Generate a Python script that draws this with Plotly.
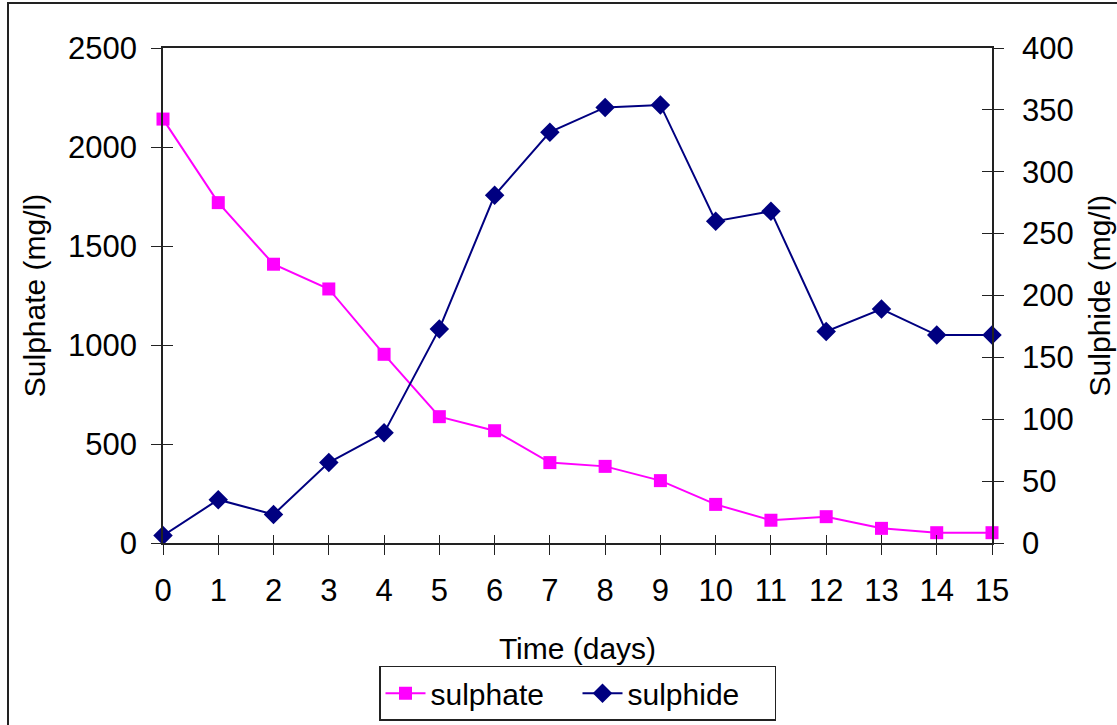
import plotly.graph_objects as go

# Time axis (days)
days = list(range(16))
# Sulphate concentration (mg/l), left axis
sulphate = [2141, 1719, 1408, 1283, 953, 638, 567, 406, 387, 315, 195, 115, 133, 74, 52, 52]
# Sulphide concentration (mg/l), right axis
sulphide = [6, 35, 23, 65, 89, 173, 281, 332, 352, 354, 260, 268, 171, 189, 168, 168]

FONT = "Arial, Liberation Sans, sans-serif"
SIZE = 30
TICK_SIZE = 31

fig = go.Figure()
fig.add_trace(go.Scatter(
    x=days, y=sulphate, name="sulphate", mode="lines+markers",
    line=dict(color="#FF00FF", width=2),
    marker=dict(symbol="square", size=13, color="#FF00FF"),
    yaxis="y", cliponaxis=False,
))
fig.add_trace(go.Scatter(
    x=days, y=sulphide, name="sulphide", mode="lines+markers",
    line=dict(color="#000080", width=2),
    marker=dict(symbol="diamond", size=15, color="#000080"),
    yaxis="y2", cliponaxis=False,
))

axis_common = dict(showgrid=False, zeroline=False, linecolor="#222222", linewidth=1.5,
                   ticks="outside", ticklen=10, tickwidth=1, tickcolor="#222222",
                   automargin=False,
                   tickfont=dict(family=FONT, size=TICK_SIZE, color="black"))

fig.update_layout(
    width=1117, height=725,
    margin=dict(l=163, r=125, t=48, b=182, pad=0, autoexpand=False),
    paper_bgcolor="white", plot_bgcolor="white",
    font=dict(family=FONT, size=SIZE, color="black"),
    xaxis=dict(range=[0, 15], tickvals=days, showline=True, mirror=True,
               title=dict(text="Time (days)", standoff=31, font=dict(size=SIZE)),
               ticklabelstandoff=9, **axis_common),
    yaxis=dict(range=[0, 2500], tickvals=[0, 500, 1000, 1500, 2000, 2500], showline=True,
               title=dict(text="Sulphate (mg/l)", standoff=14, font=dict(size=SIZE)),
               ticklabelstandoff=8, **axis_common),
    yaxis2=dict(range=[0, 400], tickvals=[0, 50, 100, 150, 200, 250, 300, 350, 400],
                overlaying="y", side="right", showline=True, anchor="x",
                title=dict(text="Sulphide (mg/l)", standoff=16, font=dict(size=SIZE)),
                ticklabelstandoff=12, **axis_common),
    # companion axes that draw the inner half of each tick mark
    xaxis2=dict(range=[0, 15], tickvals=days, overlaying="x", anchor="y", showline=False,
                showgrid=False, zeroline=False, ticks="inside", ticklen=8, tickcolor="#222222",
                showticklabels=False, side="bottom", automargin=False),
    yaxis3=dict(range=[0, 2500], tickvals=[0, 500, 1000, 1500, 2000, 2500], overlaying="y",
                anchor="x", side="left", showline=False, showgrid=False, zeroline=False,
                ticks="inside", ticklen=10, tickcolor="#222222", showticklabels=False,
                automargin=False),
    yaxis4=dict(range=[0, 400], tickvals=[0, 50, 100, 150, 200, 250, 300, 350, 400],
                overlaying="y", anchor="x", side="right", showline=False, showgrid=False,
                zeroline=False, ticks="inside", ticklen=10, tickcolor="#222222",
                showticklabels=False, automargin=False),
    showlegend=True,
    legend=dict(orientation="h", x=0.5, xanchor="center", y=-0.248, yanchor="top",
                bordercolor="#222222", borderwidth=1.5, bgcolor="white",
                font=dict(family=FONT, size=SIZE), itemwidth=40, tracegroupgap=0,
                entrywidth=142, entrywidthmode="pixels"),
)

# invisible traces so the companion tick axes are rendered
fig.add_trace(go.Scatter(x=[0], y=[0], xaxis="x2", yaxis="y3", mode="markers",
                         marker=dict(opacity=0), showlegend=False, hoverinfo="skip"))
fig.add_trace(go.Scatter(x=[0], y=[0], xaxis="x2", yaxis="y4", mode="markers",
                         marker=dict(opacity=0), showlegend=False, hoverinfo="skip"))

# outer chart border
fig.add_shape(type="rect", xref="paper", yref="paper",
              x0=(8 - 163) / 829, x1=(1130 - 163) / 829,
              y0=(543 - 740) / 495, y1=(543 - 3) / 495,
              line=dict(color="#222222", width=2), fillcolor="rgba(0,0,0,0)", layer="below")

fig.write_html("out.html")
